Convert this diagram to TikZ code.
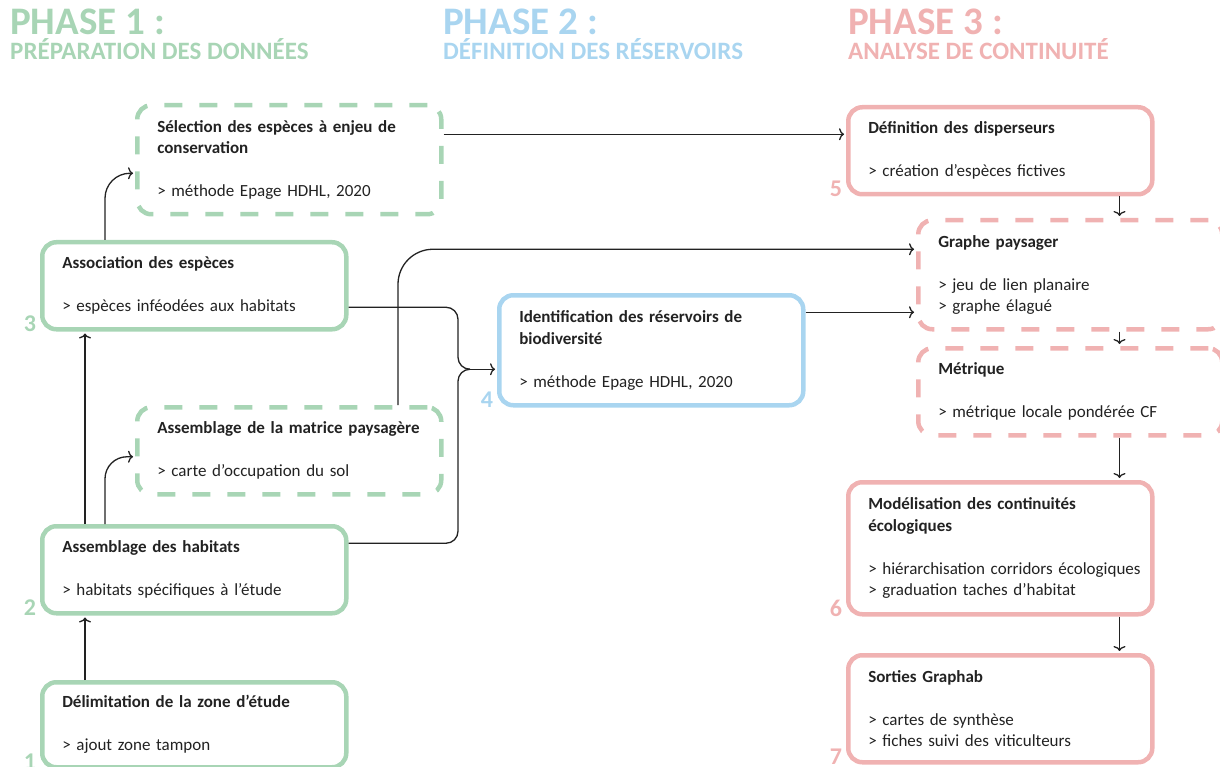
\documentclass[tikz,border=0pt]{standalone}
\usepackage{fontspec}
\setmainfont{Carlito}
\usepackage{xcolor}
\usetikzlibrary{arrows.meta}

\definecolor{phasegreen}{RGB}{168,213,181}
\definecolor{phaseblue}{RGB}{169,213,240}
\definecolor{phasepink}{RGB}{240,178,178}
\definecolor{ink}{RGB}{34,34,34}

\begin{document}
\begin{tikzpicture}
    [x=1pt, y=-1pt,
     stage/.style={rectangle, rounded corners=14pt, line width=4.5pt, anchor=north west, minimum width=304pt, text width=264pt, inner xsep=20pt, inner ysep=4pt, align=left, text=ink, font=\fontsize{17}{21.5}\selectfont},
     option/.style={stage, dash pattern=on 18pt off 17pt},
     phase/.style={anchor=base west, inner sep=0pt, text depth=0pt, font=\fontsize{39}{41}\selectfont\bfseries},
     subphase/.style={anchor=base west, inner sep=0pt, text height=16pt, font=\fontsize{25}{27}\selectfont\bfseries},
     num/.style={anchor=base, inner sep=0pt, font=\fontsize{24}{24}\selectfont\bfseries},
     line/.style={draw=ink, line width=1.3pt},
     flow/.style={line, -{To[length=5pt,width=12pt]}, shorten >=2pt}]
    \useasboundingbox (0,0) rectangle (1220,767);

    % titres des phases
    \node (ph1) [phase, text=phasegreen] at (10,35) {PHASE 1 :};
    \node (ph1s) [subphase, text=phasegreen] at (10,60) {PRÉPARATION DES DONNÉES};
    \node (ph2) [phase, text=phaseblue] at (443,35) {PHASE 2 :};
    \node (ph2s) [subphase, text=phaseblue] at (443,60) {DÉFINITION DES RÉSERVOIRS};
    \node (ph3) [phase, text=phasepink] at (848,35) {PHASE 3 :};
    \node (ph3s) [subphase, text=phasepink] at (848,60) {ANALYSE DE CONTINUITÉ};

    % phase 1
    \node (b1) [stage, draw=phasegreen, minimum height=85pt] at (40,680) {\textbf{Délimitation de la zone d’étude}\\[21.5pt]> ajout zone tampon};
    \node (b2) [stage, draw=phasegreen, minimum height=87pt] at (40,524) {\textbf{Assemblage des habitats}\\[21.5pt]> habitats spécifiques à l’étude};
    \node (b3) [stage, draw=phasegreen, minimum height=87pt] at (40,240) {\textbf{Association des espèces}\\[21.5pt]> espèces inféodées aux habitats};
    \node (sel) [option, draw=phasegreen, minimum width=302pt, minimum height=109pt] at (135,103) {\textbf{Sélection des espèces à enjeu de}\\\textbf{conservation}\\[21.5pt]> méthode Epage HDHL, 2020};
    \node (mat) [option, draw=phasegreen, minimum width=303pt, minimum height=87pt] at (135,405) {\textbf{Assemblage de la matrice paysagère}\\[21.5pt]> carte d’occupation du sol};

    % phase 2
    \node (b4) [stage, draw=phaseblue, minimum height=110pt] at (497,293) {\textbf{Identification des réservoirs de}\\\textbf{biodiversité}\\[21.5pt]> méthode Epage HDHL, 2020};

    % phase 3
    \node (b5) [stage, draw=phasepink, minimum height=87pt] at (846,105) {\textbf{Définition des disperseurs}\\[21.5pt]> création d’espèces fictives};
    \node (gra) [option, draw=phasepink, minimum width=302pt, minimum height=109pt] at (916,218) {\textbf{Graphe paysager}\\[21.5pt]> jeu de lien planaire\\> graphe élagué};
    \node (met) [option, draw=phasepink, minimum width=302pt, minimum height=87pt] at (916,346) {\textbf{Métrique}\\[21.5pt]> métrique locale pondérée CF};
    \node (b6) [stage, draw=phasepink, minimum height=132pt] at (846,480) {\textbf{Modélisation des continuités}\\\textbf{écologiques}\\[21.5pt]\mbox{> hiérarchisation corridors écologiques}\\> graduation taches d’habitat};
    \node (b7) [stage, draw=phasepink, minimum height=107pt] at (846,653) {\textbf{Sorties Graphab}\\[21.5pt]> cartes de synthèse\\> fiches suivi des viticulteurs};

    % numeros
    \foreach \b/\n/\c in {b1/1/phasegreen, b2/2/phasegreen, b3/3/phasegreen, b4/4/phaseblue, b5/5/phasepink, b6/6/phasepink, b7/7/phasepink}{
        \node (n\n) [num, text=\c] at ([xshift=-10pt]\b.south west) {\n};
    }

    % liens phase 1
    \draw[flow] ([xshift=45pt]b1.north west) -- ([xshift=45pt]b2.south west);
    \draw[flow] ([xshift=45pt]b2.north west) -- ([xshift=45pt]b3.south west);
    \draw[flow, rounded corners=25pt] ([xshift=65pt]b3.north west) |- ([yshift=-13.5pt]sel.west);
    \draw[flow, rounded corners=22pt] ([xshift=65pt]b2.north west) |- ([yshift=-6pt]mat.west);

    % accolade vers les reservoirs
    \coordinate (join) at ([xshift=-27pt,yshift=-19pt]b4.west);
    \draw[line, rounded corners=12pt] ([yshift=-21.5pt]b3.east) -| ([xshift=-12pt]join) -- (join);
    \draw[line, rounded corners=12pt] ([yshift=26.5pt]b2.east) -| ([xshift=-12pt]join) -- (join);
    \draw[flow] (join) -- (join -| b4.west);

    % liens vers la phase 3
    \draw[flow] ([yshift=25.5pt]sel.east) -- ([yshift=25.5pt]sel.east -| b5.west);
    \draw[flow, rounded corners=35pt] ([xshift=263pt]mat.north west) |- ([yshift=25.5pt]gra.west);
    \draw[flow] ([yshift=38pt]b4.east) -- ([yshift=38pt]b4.east -| gra.west);

    % colonne de droite
    \coordinate (rail) at ([xshift=-35pt]b5.south east);
    \draw[flow] (rail) -- (rail |- gra.north);
    \draw[flow] (rail |- gra.south) -- (rail |- met.north);
    \draw[flow] (rail |- met.south) -- (rail |- b6.north);
    \draw[flow] (rail |- b6.south) -- (rail |- b7.north);
\end{tikzpicture}
\end{document}
